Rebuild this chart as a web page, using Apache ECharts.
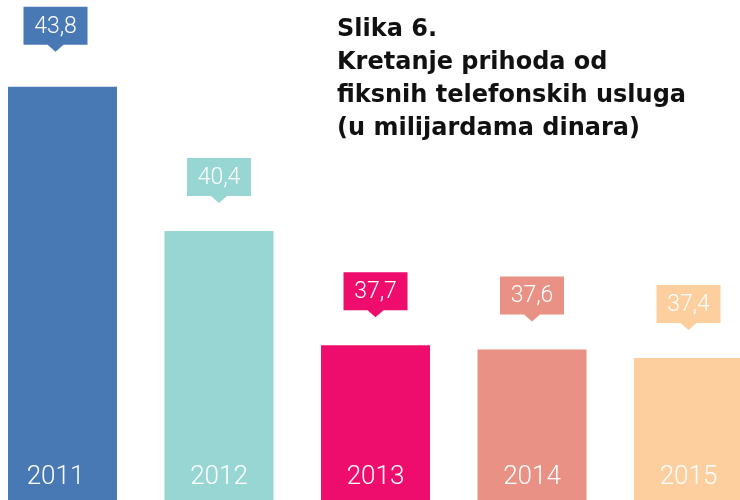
<!DOCTYPE html>
<html>
<head>
<meta charset="utf-8">
<script src="https://cdn.jsdelivr.net/npm/echarts@6/dist/echarts.min.js"></script>
<style>
html,body{margin:0;padding:0;background:#fff;}
#chart{width:740px;height:500px;}
</style>
</head>
<body>
<div id="chart"></div>
<script>
const years = ['2011', '2012', '2013', '2014', '2015'];
const values = [43.8, 40.4, 37.7, 37.6, 37.4];
const colors = ['#4979b5', '#98d6d3', '#ee0d6d', '#e89184', '#fdcf9e'];
const titleLines = ['Slika 6.', 'Kretanje prihoda od', 'fiksnih telefonskih usluga', '(u milijardama dinara)'];

const chart = echarts.init(document.getElementById('chart'), null, {renderer: 'canvas'});

const fmt = v => String(v).replace('.', ',');

chart.setOption({
  animation: false,
  backgroundColor: '#ffffff',
  title: {
    text: titleLines.join('\n'),
    left: 332,
    top: 8,
    textStyle: {
      fontFamily: '"DejaVu Sans", sans-serif',
      fontWeight: 'bold',
      fontSize: 24,
      lineHeight: 33,
      color: '#111111'
    }
  },
  grid: {left: 0, right: 0, top: 0, bottom: 0, containLabel: false},
  xAxis: {
    type: 'value',
    min: -0.3994,
    max: 4.329,
    show: false,
    splitLine: {show: false}
  },
  yAxis: {
    type: 'value',
    min: 34.05,
    max: 45.85,
    show: false,
    splitLine: {show: false}
  },
  series: [
    {
      type: 'bar',
      barWidth: 109,
      data: values.map((v, i) => ({
        value: [i, v],
        itemStyle: {color: colors[i]},
        label: i === 0 ? {offset: [-7, 0]} : undefined
      })),
      label: {
        show: true,
        position: 'insideBottom',
        distance: 10,
        formatter: p => years[p.dataIndex],
        color: '#ffffff',
        fontFamily: 'Roboto, sans-serif',
        fontWeight: 300,
        fontSize: 26
      },
      z: 2
    },
    {
      type: 'custom',
      data: values.map((v, i) => [i, v]),
      encode: {x: 0, y: 1},
      clip: false,
      z: 3,
      renderItem: function (params, api) {
        const i = params.dataIndex;
        const pt = api.coord([api.value(0), api.value(1)]);
        let cx = pt[0];
        let tipY = pt[1] - 28;
        if (pt[1] < 120) { cx -= 7; tipY = pt[1] - 35; }
        const boxW = 64, boxH = 38, triH = 7, triW = 8;
        const bb = tipY - triH;
        const bt = bb - boxH;
        return {
          type: 'group',
          children: [
            {
              type: 'polygon',
              shape: {points: [
                [cx - boxW / 2, bt], [cx + boxW / 2, bt], [cx + boxW / 2, bb],
                [cx + triW, bb], [cx, tipY], [cx - triW, bb], [cx - boxW / 2, bb]
              ]},
              style: {fill: colors[i]}
            },
            {
              type: 'text',
              style: {
                text: fmt(values[i]),
                x: cx,
                y: bt + boxH / 2 + 1,
                align: 'center',
                verticalAlign: 'middle',
                fill: '#ffffff',
                font: '300 23px Roboto, sans-serif'
              }
            }
          ]
        };
      }
    }
  ]
});
</script>
</body>
</html>
